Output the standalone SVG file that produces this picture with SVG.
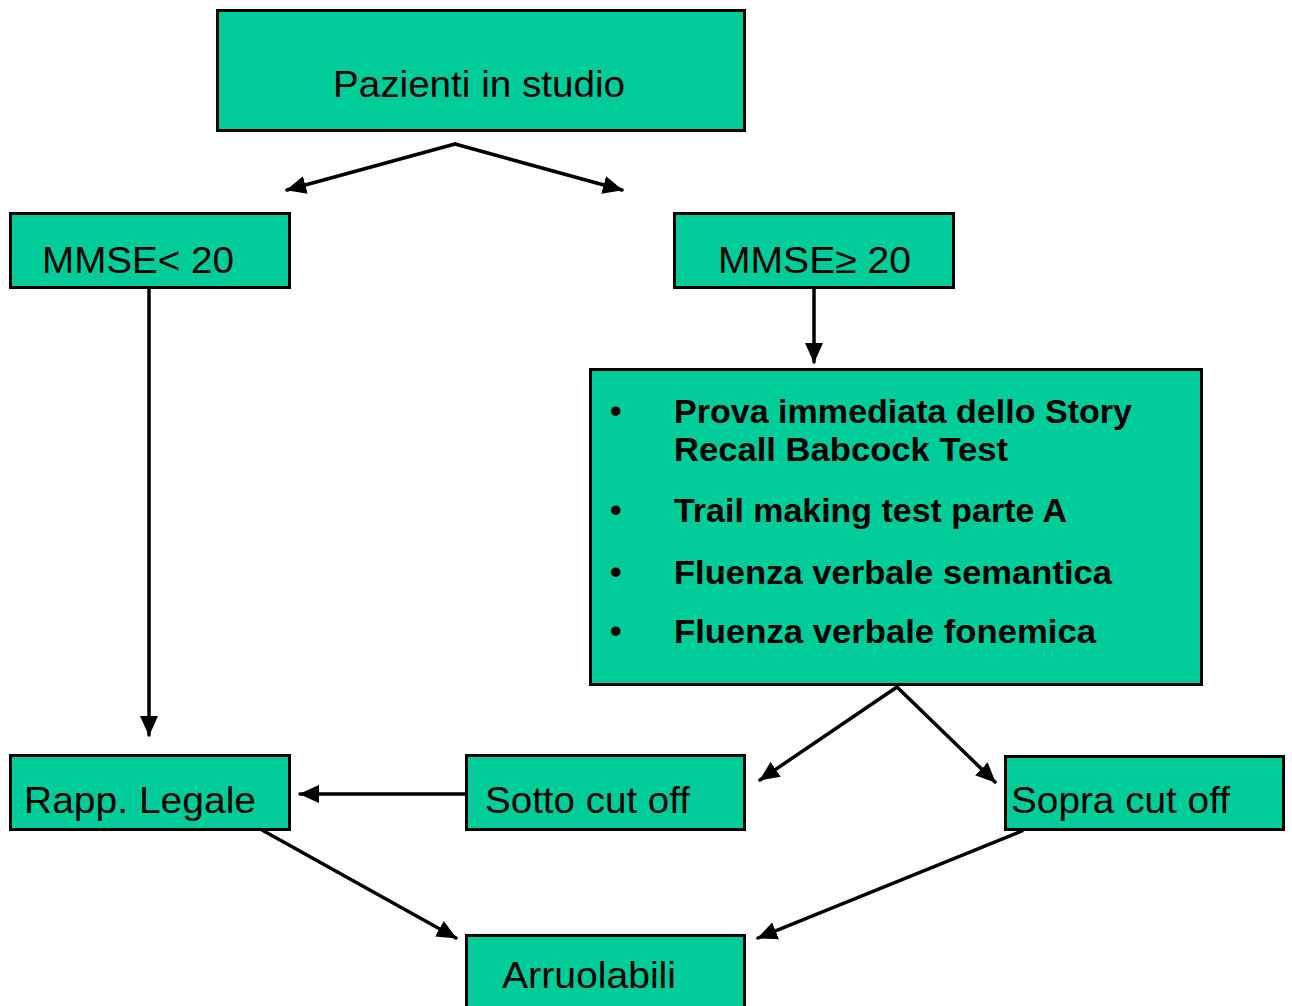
<svg xmlns="http://www.w3.org/2000/svg" width="1292" height="1006" viewBox="0 0 1292 1006">
<style>
.box{fill:#00cc99;stroke:#000;stroke-width:3}
.t{font-family:"Liberation Sans",Arial,sans-serif;font-size:36px;fill:#000}
.b{font-family:"Liberation Sans",Arial,sans-serif;font-size:33px;font-weight:bold;fill:#000}
.c{fill:none;stroke:#000;stroke-width:3.5;stroke-linecap:round;stroke-linejoin:round}
</style>
<defs>
<marker id="ah" markerUnits="userSpaceOnUse" markerWidth="22" markerHeight="20" refX="19" refY="9" orient="auto" viewBox="0 0 22 18">
<path d="M0,0 L20,9 L0,18 Z" fill="#000"/>
</marker>
</defs>
<rect width="1292" height="1006" fill="#fff"/>
<g id="connectors">
<polyline class="c" points="455,144 287,190" marker-end="url(#ah)"/>
<polyline class="c" points="455,144 622,190" marker-end="url(#ah)"/>
<line class="c" x1="149" y1="288" x2="149" y2="735" marker-end="url(#ah)"/>
<line class="c" x1="814" y1="288" x2="814" y2="362" marker-end="url(#ah)"/>
<line class="c" x1="897" y1="687" x2="760" y2="780" marker-end="url(#ah)"/>
<line class="c" x1="897" y1="687" x2="995" y2="782" marker-end="url(#ah)"/>
<line class="c" x1="466" y1="794" x2="300" y2="794" marker-end="url(#ah)"/>
<line class="c" x1="262" y1="830" x2="456" y2="938" marker-end="url(#ah)"/>
<line class="c" x1="1022" y1="831" x2="758" y2="938" marker-end="url(#ah)"/>
</g>
<g id="n-pazienti">
<rect class="box" x="217.5" y="10.5" width="527" height="120"/>
<text class="t" x="333" y="97" textLength="292" lengthAdjust="spacingAndGlyphs">Pazienti in studio</text>
</g>
<g id="n-mmse-lt">
<rect class="box" x="10.5" y="213.5" width="279" height="74"/>
<text class="t" x="42" y="273" textLength="192" lengthAdjust="spacingAndGlyphs">MMSE&lt; 20</text>
</g>
<g id="n-mmse-ge">
<rect class="box" x="674.5" y="213.5" width="279" height="74"/>
<text class="t" x="718" y="273" textLength="193" lengthAdjust="spacingAndGlyphs">MMSE≥ 20</text>
</g>
<g id="n-tests">
<rect class="box" x="590.5" y="369.5" width="611" height="315"/>
<g class="b">
<text x="610" y="422">•</text>
<text x="610" y="521">•</text>
<text x="610" y="583">•</text>
<text x="610" y="642">•</text>
<text x="674" y="423" textLength="458" lengthAdjust="spacingAndGlyphs">Prova immediata dello Story</text>
<text x="674" y="461" textLength="334" lengthAdjust="spacingAndGlyphs">Recall Babcock Test</text>
<text x="674" y="522" textLength="393" lengthAdjust="spacingAndGlyphs">Trail making test parte A</text>
<text x="674" y="584" textLength="438" lengthAdjust="spacingAndGlyphs">Fluenza verbale semantica</text>
<text x="674" y="643" textLength="422" lengthAdjust="spacingAndGlyphs">Fluenza verbale fonemica</text>
</g>
</g>
<g id="n-rapp">
<rect class="box" x="10.5" y="755.5" width="279" height="74"/>
<text class="t" x="24" y="813" textLength="232" lengthAdjust="spacingAndGlyphs">Rapp. Legale</text>
</g>
<g id="n-sotto">
<rect class="box" x="466.5" y="755.5" width="278" height="74"/>
<text class="t" x="485" y="813" textLength="205" lengthAdjust="spacingAndGlyphs">Sotto cut off</text>
</g>
<g id="n-sopra">
<rect class="box" x="1005.5" y="756.5" width="278" height="73"/>
<text class="t" x="1011" y="813" textLength="219" lengthAdjust="spacingAndGlyphs">Sopra cut off</text>
</g>
<g id="n-arruolabili">
<rect class="box" x="466.5" y="935.5" width="278" height="80"/>
<text class="t" x="502" y="988" textLength="174" lengthAdjust="spacingAndGlyphs">Arruolabili</text>
</g>
</svg>
